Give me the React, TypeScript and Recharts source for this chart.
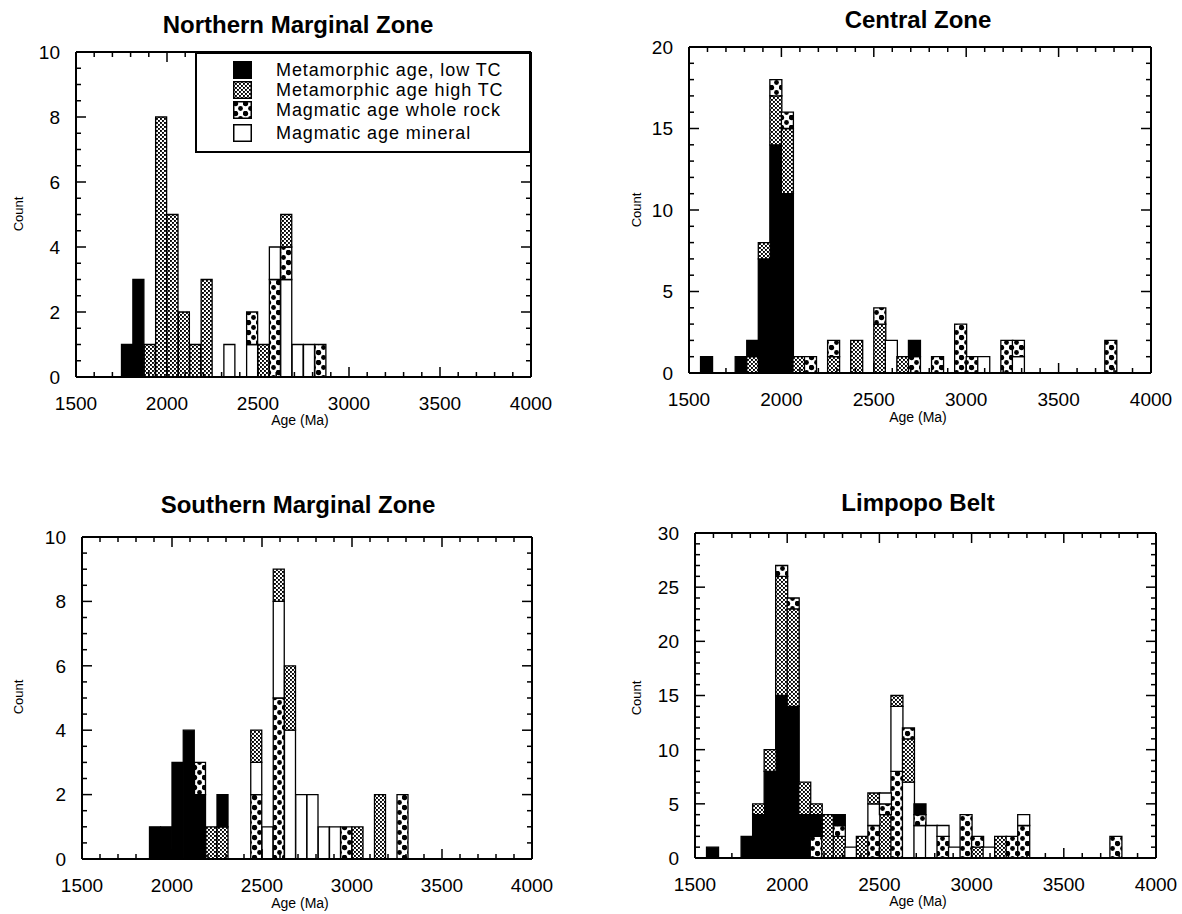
import React from 'react';
import { BarChart, Bar, XAxis, YAxis, Cell, Legend } from 'recharts';

const FONT = '"Liberation Sans", Arial, Helvetica, sans-serif';

// ---- histogram bins (Ma) ----
const AGE_MIN = 1500;
const AGE_MAX = 4000;
const BIN_WIDTH = 62.5;
const BIN_COUNT = (AGE_MAX - AGE_MIN) / BIN_WIDTH;
const AGE_LABEL_STEP = 500;
const AGE_MINOR_STEP = 100;

// ---- categories ----
type CatKey = 'low' | 'high' | 'rock' | 'mineral';
const CATEGORIES: { key: CatKey; name: string }[] = [
  { key: 'low', name: 'Metamorphic age, low TC' },
  { key: 'high', name: 'Metamorphic age high TC' },
  { key: 'rock', name: 'Magmatic age whole rock' },
  { key: 'mineral', name: 'Magmatic age mineral' },
];
const FILLS: Record<CatKey, string> = {
  low: '#000000',
  high: 'url(#pat-high)',
  rock: 'url(#pat-rock)',
  mineral: '#ffffff',
};

// ---- data: [bin index, segments bottom -> top] ----
type Seg = [CatKey, number];
type Stack = [number, Seg[]];

const northernStacks: Stack[] = [
  [4, [['low', 1]]],
  [5, [['low', 3]]],
  [6, [['high', 1]]],
  [7, [['high', 8]]],
  [8, [['high', 5]]],
  [9, [['high', 2]]],
  [10, [['high', 1]]],
  [11, [['high', 3]]],
  [13, [['mineral', 1]]],
  [15, [['mineral', 1], ['rock', 1]]],
  [16, [['high', 1]]],
  [17, [['rock', 3], ['mineral', 1]]],
  [18, [['mineral', 3], ['rock', 1], ['high', 1]]],
  [19, [['mineral', 1]]],
  [20, [['mineral', 1]]],
  [21, [['rock', 1]]],
];

const centralStacks: Stack[] = [
  [1, [['low', 1]]],
  [4, [['low', 1]]],
  [5, [['high', 1], ['low', 1]]],
  [6, [['low', 7], ['high', 1]]],
  [7, [['low', 14], ['high', 3], ['rock', 1]]],
  [8, [['low', 11], ['high', 4], ['rock', 1]]],
  [9, [['high', 1]]],
  [10, [['rock', 1]]],
  [12, [['high', 1], ['rock', 1]]],
  [14, [['high', 2]]],
  [16, [['high', 3], ['rock', 1]]],
  [17, [['mineral', 2]]],
  [18, [['high', 1]]],
  [19, [['rock', 1], ['low', 1]]],
  [21, [['rock', 1]]],
  [23, [['rock', 3]]],
  [24, [['rock', 1]]],
  [25, [['mineral', 1]]],
  [27, [['rock', 2]]],
  [28, [['mineral', 1], ['rock', 1]]],
  [36, [['rock', 2]]],
];

const southernStacks: Stack[] = [
  [6, [['low', 1]]],
  [7, [['low', 1]]],
  [8, [['low', 3]]],
  [9, [['low', 4]]],
  [10, [['low', 2], ['rock', 1]]],
  [11, [['high', 1]]],
  [12, [['high', 1], ['low', 1]]],
  [15, [['rock', 2], ['mineral', 1], ['high', 1]]],
  [16, [['mineral', 1]]],
  [17, [['rock', 5], ['mineral', 3], ['high', 1]]],
  [18, [['mineral', 4], ['high', 2]]],
  [19, [['mineral', 2]]],
  [20, [['mineral', 2]]],
  [21, [['mineral', 1]]],
  [22, [['mineral', 1]]],
  [23, [['rock', 1]]],
  [24, [['high', 1]]],
  [26, [['high', 2]]],
  [28, [['rock', 2]]],
];

const limpopoStacks: Stack[] = [
  [1, [['low', 1]]],
  [4, [['low', 2]]],
  [5, [['low', 4], ['high', 1]]],
  [6, [['low', 8], ['high', 2]]],
  [7, [['low', 15], ['high', 11], ['rock', 1]]],
  [8, [['low', 14], ['high', 9], ['rock', 1]]],
  [9, [['low', 4], ['high', 3]]],
  [10, [['rock', 2], ['low', 2], ['high', 1]]],
  [11, [['high', 4]]],
  [12, [['high', 2], ['rock', 1], ['low', 1]]],
  [13, [['mineral', 1]]],
  [14, [['high', 2]]],
  [15, [['rock', 3], ['mineral', 2], ['high', 1]]],
  [16, [['high', 4], ['rock', 1], ['mineral', 1]]],
  [17, [['rock', 8], ['mineral', 6], ['high', 1]]],
  [18, [['mineral', 7], ['high', 4], ['rock', 1]]],
  [19, [['mineral', 3], ['rock', 1], ['low', 1]]],
  [20, [['mineral', 3]]],
  [21, [['rock', 2], ['mineral', 1]]],
  [22, [['mineral', 1]]],
  [23, [['rock', 4]]],
  [24, [['high', 1], ['rock', 1]]],
  [25, [['mineral', 1]]],
  [26, [['high', 2]]],
  [27, [['rock', 2]]],
  [28, [['rock', 3], ['mineral', 1]]],
  [36, [['rock', 2]]],
];

// ---- panels ----
type PanelCfg = {
  title: string;
  stacks: Stack[];
  yMax: number;
  yMinor: number;
  yMajor: number;
  frame: { x: number; y: number; w: number; h: number };
  titlePos: [number, number];
  agePos: [number, number];
  countPos: [number, number];
  legend?: boolean;
};

const PANELS: PanelCfg[] = [
  {
    title: 'Northern Marginal Zone', stacks: northernStacks, yMax: 10, yMinor: 0.5, yMajor: 2,
    frame: { x: 76, y: 52, w: 455, h: 325 }, titlePos: [298, 33], agePos: [300, 425], countPos: [18, 214], legend: true,
  },
  {
    title: 'Central Zone', stacks: centralStacks, yMax: 20, yMinor: 1, yMajor: 5,
    frame: { x: 689, y: 47, w: 462, h: 326 }, titlePos: [918, 28], agePos: [918, 422], countPos: [636, 210],
  },
  {
    title: 'Southern Marginal Zone', stacks: southernStacks, yMax: 10, yMinor: 0.5, yMajor: 2,
    frame: { x: 82, y: 537, w: 450, h: 322 }, titlePos: [298, 513], agePos: [300, 908], countPos: [18, 697],
  },
  {
    title: 'Limpopo Belt', stacks: limpopoStacks, yMax: 30, yMinor: 1, yMajor: 5,
    frame: { x: 695, y: 533, w: 461, h: 325 }, titlePos: [918, 511], agePos: [918, 906], countPos: [636, 698],
  },
];

const LAYERS = [0, 1, 2];

const BINS = Array.from({ length: BIN_COUNT }, (_, i) => ({
  bin: i,
  center: AGE_MIN + (i + 0.5) * BIN_WIDTH,
}));

const AGE_TICKS: number[] = [];
for (let v = AGE_MIN; v <= AGE_MAX; v += AGE_MINOR_STEP) AGE_TICKS.push(v);

function buildRows(stacks: Stack[]) {
  const rows: any[] = BINS.map((b) => {
    const r: any = { bin: b.bin, center: b.center };
    LAYERS.forEach((j) => {
      r['v' + j] = 0;
      r['c' + j] = null;
    });
    return r;
  });
  stacks.forEach(([bin, segs]) => {
    segs.forEach(([cat, n], j) => {
      rows[bin]['v' + j] = n;
      rows[bin]['c' + j] = cat;
    });
  });
  return rows;
}

function countTicks(max: number, step: number) {
  const out: number[] = [];
  const n = Math.round(max / step);
  for (let i = 0; i <= n; i++) out.push(+(i * step).toFixed(3));
  return out;
}

const isMultiple = (v: number, step: number) => Math.abs(v / step - Math.round(v / step)) < 1e-6;

const AgeTick = (props: any) => {
  const { x, y, payload, side } = props;
  const v = payload.value;
  const major = isMultiple(v - AGE_MIN, AGE_LABEL_STEP);
  const len = major ? 10 : 5;
  const dir = side === 'bottom' ? -1 : 1;
  return (
    <g>
      <line x1={x} x2={x} y1={y} y2={y + dir * len} stroke="#000" strokeWidth={1.5} />
      {side === 'bottom' && major && (
        <text x={x} y={y + 33} textAnchor="middle" fontSize={19} fontFamily={FONT} fill="#000">
          {v}
        </text>
      )}
    </g>
  );
};

const CountTick = (props: any) => {
  const { x, y, payload, side, majorStep } = props;
  const v = payload.value;
  const major = isMultiple(v, majorStep);
  const len = major ? 10 : 5;
  const dir = side === 'left' ? 1 : -1;
  return (
    <g>
      <line x1={x} x2={x + dir * len} y1={y} y2={y} stroke="#000" strokeWidth={1.5} />
      {side === 'left' && major && (
        <text x={x - 16} y={y} dy="0.36em" textAnchor="end" fontSize={19} fontFamily={FONT} fill="#000">
          {v}
        </text>
      )}
    </g>
  );
};

const Swatch = ({ cat }: { cat: CatKey }) => (
  <svg width={19} height={18} style={{ display: 'block' }}>
    <rect x={0.75} y={0.75} width={17.5} height={16.5} fill={FILLS[cat]} stroke="#000" strokeWidth={1.5} />
  </svg>
);

const LegendBox = () => (
  <div
    style={{
      boxSizing: 'border-box',
      width: '100%',
      height: '100%',
      border: '2px solid #000',
      background: '#fff',
      paddingTop: 6,
      fontFamily: FONT,
    }}
  >
    {CATEGORIES.map((c, i) => (
      <div
        key={c.key}
        style={{
          display: 'flex',
          alignItems: 'center',
          height: 20,
          marginTop: i === 3 ? 3 : 0,
        }}
      >
        <div style={{ width: 36 }} />
        <Swatch cat={c.key} />
        <div style={{ width: 24 }} />
        <span style={{ fontSize: 18, lineHeight: '18px', letterSpacing: 0.9, color: '#000', whiteSpace: 'nowrap' }}>
          {c.name}
        </span>
      </div>
    ))}
  </div>
);

const PAD_L = 70;
const PAD_R = 12;
const PAD_T = 12;
const PAD_B = 50;
const EXTRA_R = 26;

function Panel({ cfg }: { cfg: PanelCfg }) {
  const { frame } = cfg;
  const rows = buildRows(cfg.stacks);
  const yTicks = countTicks(cfg.yMax, cfg.yMinor);
  const width = frame.w + PAD_L + PAD_R + EXTRA_R;
  const height = frame.h + PAD_T + PAD_B;
  const axisLine = { stroke: '#000', strokeWidth: 2 };
  return (
    <div style={{ position: 'absolute', left: frame.x - PAD_L, top: frame.y - PAD_T }}>
      <BarChart
        width={width}
        height={height}
        data={rows}
        margin={{ top: 0, right: EXTRA_R, bottom: 0, left: 0 }}
        barCategoryGap={0}
        barGap={0}
      >
        <XAxis xAxisId="bins" dataKey="bin" type="category" hide />
        <XAxis
          xAxisId="age"
          dataKey="center"
          type="number"
          domain={[AGE_MIN, AGE_MAX]}
          allowDataOverflow
          ticks={AGE_TICKS}
          interval={0}
          tickSize={0}
          tickMargin={0}
          tickLine={false}
          axisLine={axisLine}
          height={PAD_B}
          tick={(p: any) => <AgeTick {...p} side="bottom" />}
        />
        <XAxis
          xAxisId="ageTop"
          orientation="top"
          dataKey="center"
          type="number"
          domain={[AGE_MIN, AGE_MAX]}
          allowDataOverflow
          ticks={AGE_TICKS}
          interval={0}
          tickSize={0}
          tickMargin={0}
          tickLine={false}
          axisLine={axisLine}
          height={PAD_T}
          tick={(p: any) => <AgeTick {...p} side="top" />}
        />
        <YAxis
          yAxisId="count"
          type="number"
          domain={[0, cfg.yMax]}
          allowDataOverflow
          ticks={yTicks}
          interval={0}
          tickSize={0}
          tickMargin={0}
          tickLine={false}
          axisLine={axisLine}
          width={PAD_L}
          tick={(p: any) => <CountTick {...p} side="left" majorStep={cfg.yMajor} />}
        />
        <YAxis
          yAxisId="countRight"
          orientation="right"
          type="number"
          dataKey="v0"
          domain={[0, cfg.yMax]}
          allowDataOverflow
          ticks={yTicks}
          interval={0}
          tickSize={0}
          tickMargin={0}
          tickLine={false}
          axisLine={axisLine}
          width={PAD_R}
          tick={(p: any) => <CountTick {...p} side="right" majorStep={cfg.yMajor} />}
        />
        {LAYERS.map((j) => (
          <Bar
            key={j}
            dataKey={'v' + j}
            stackId="stack"
            xAxisId="bins"
            yAxisId="count"
            stroke="#000"
            strokeWidth={1.3}
            isAnimationActive={false}
          >
            {rows.map((r, i) => (
              <Cell key={i} fill={r['c' + j] ? FILLS[r['c' + j] as CatKey] : 'none'} />
            ))}
          </Bar>
        ))}
        {cfg.legend && (
          <Legend
            layout="vertical"
            align="center"
            verticalAlign="middle"
            content={() => <LegendBox />}
            wrapperStyle={{ left: 195 - (frame.x - PAD_L), top: PAD_T, width: frame.x + frame.w - 195, height: 101 }}
          />
        )}
      </BarChart>
    </div>
  );
}

export default function App() {
  return (
    <div style={{ position: 'absolute', left: 0, top: 0, width: 1182, height: 914, background: '#fff', overflow: 'hidden' }}>
      <svg width={0} height={0} style={{ position: 'absolute' }}>
        <defs>
          <pattern id="pat-high" width={4} height={4} patternUnits="userSpaceOnUse">
            <rect width={4} height={4} fill="#fff" />
            <rect x={0} y={0} width={1.9} height={1.9} fill="#000" />
            <rect x={2} y={2} width={1.9} height={1.9} fill="#000" />
          </pattern>
          <pattern id="pat-rock" width={10} height={10} patternUnits="userSpaceOnUse">
            <rect width={10} height={10} fill="#fff" />
            <circle cx={2.5} cy={2.5} r={2.7} fill="#000" />
            <circle cx={7.5} cy={7.5} r={2.4} fill="#000" />
          </pattern>
        </defs>
      </svg>
      <svg width={1182} height={914} style={{ position: 'absolute', left: 0, top: 0 }}>
        {PANELS.map((p) => (
          <g key={p.title}>
            <text x={p.titlePos[0]} y={p.titlePos[1]} textAnchor="middle" fontSize={24} fontWeight="bold" fontFamily={FONT} fill="#000">
              {p.title}
            </text>
            <text x={p.agePos[0]} y={p.agePos[1]} textAnchor="middle" fontSize={14} fontFamily={FONT} fill="#000">
              Age (Ma)
            </text>
            <text
              x={p.countPos[0]}
              y={p.countPos[1]}
              textAnchor="middle"
              dy="0.36em"
              fontSize={13}
              fontFamily={FONT}
              fill="#000"
              transform={`rotate(-90 ${p.countPos[0]} ${p.countPos[1]})`}
            >
              Count
            </text>
          </g>
        ))}
      </svg>
      {PANELS.map((p) => (
        <Panel key={p.title} cfg={p} />
      ))}
    </div>
  );
}
